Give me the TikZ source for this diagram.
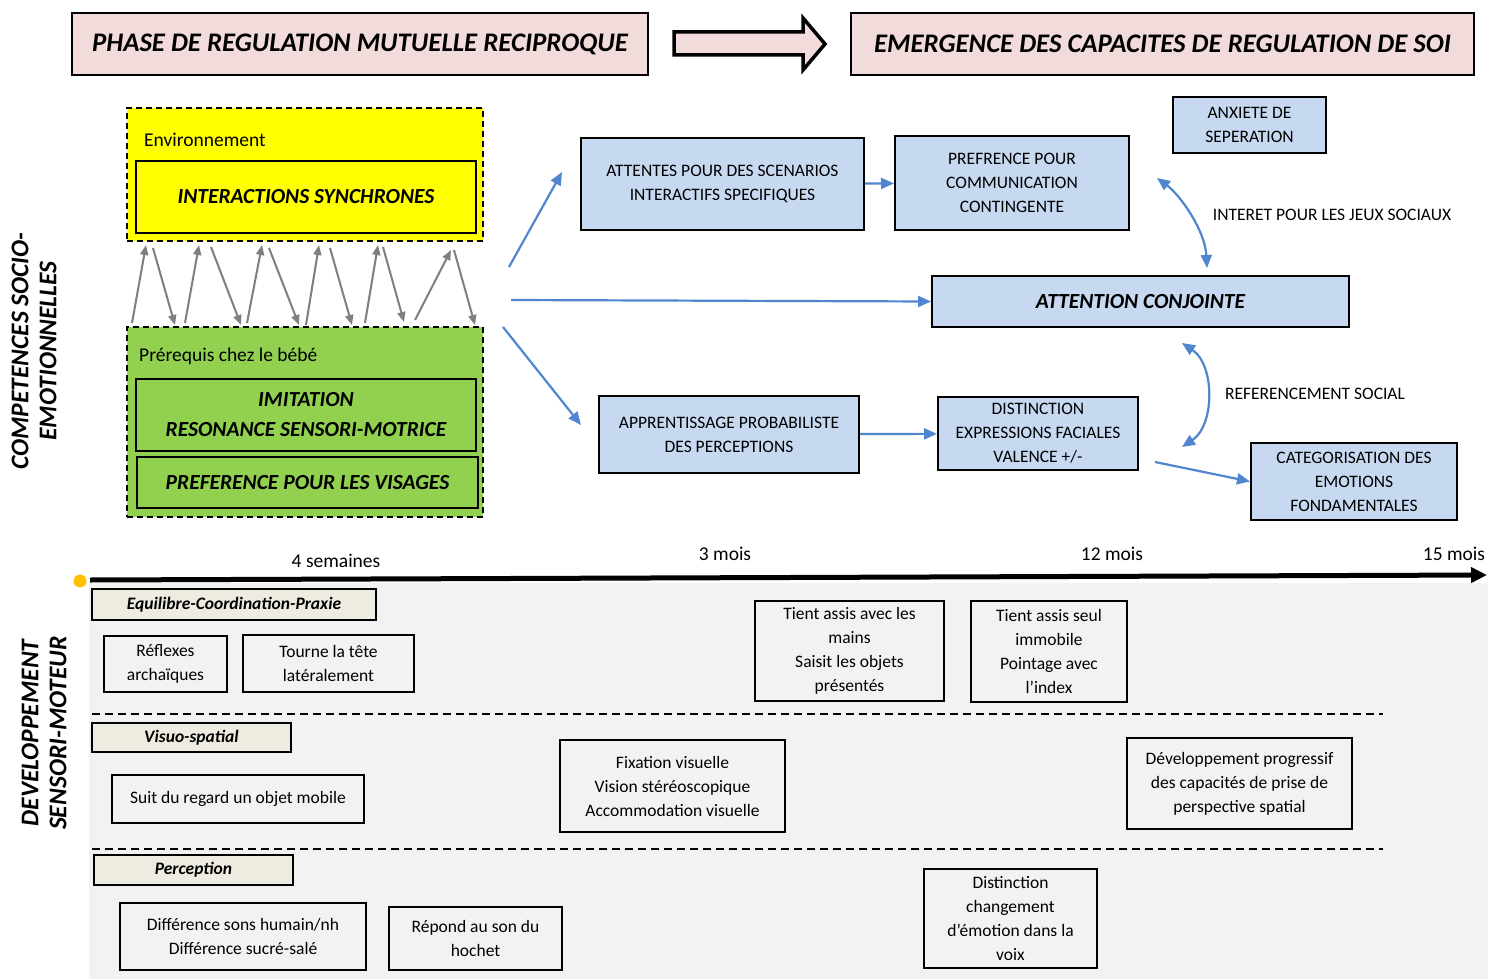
\documentclass[tikz,border=0pt]{standalone}
\usepackage{fontspec}
\setmainfont{Carlito}
\usetikzlibrary{arrows.meta}
\definecolor{hdrpink}{HTML}{F2DCDB}
\definecolor{boxblue}{HTML}{C6D9F1}
\definecolor{arrblue}{HTML}{4F86CF}
\definecolor{arrgrey}{HTML}{7F7F7F}
\definecolor{envyellow}{HTML}{FFFF00}
\definecolor{bbgreen}{HTML}{92D050}
\definecolor{catfill}{HTML}{EEECE1}
\definecolor{bggrey}{HTML}{F2F2F2}
\definecolor{dotorange}{HTML}{FFC000}
\tikzset{
  hdr/.style={draw, line width=1.5pt, fill=hdrpink, inner sep=0pt, font=\fontsize{26.8}{30}\selectfont\bfseries\itshape},
  zone/.style={draw, dashed, dash pattern=on 6pt off 4pt, line width=1.5pt, inner sep=0pt},
  inbox/.style={draw, line width=2pt, inner sep=0pt, align=center, font=\fontsize{21.5}{30}\selectfont\bfseries\itshape},
  bbox/.style={draw, line width=2pt, fill=boxblue, inner sep=0pt, align=center, font=\fontsize{17.5}{24}\selectfont},
  gbox/.style={draw, line width=1.8pt, inner sep=0pt, align=center, font=\fontsize{17.5}{24}\selectfont},
  catbox/.style={draw, line width=1.8pt, fill=catfill, inner sep=0pt, font=\fontsize{17.5}{20}\selectfont\bfseries\itshape},
  garr/.style={draw=arrgrey, line width=2pt, -{Triangle[length=10pt,width=8pt]}},
  barr/.style={draw=arrblue, line width=2.2pt, -{Triangle[length=13pt,width=11pt]}},
  bdarr/.style={draw=arrblue, line width=2.2pt, {Triangle[length=13pt,width=11pt]}-{Triangle[length=13pt,width=11pt]}},
  plain/.style={inner sep=0pt, font=\fontsize{17.5}{24}\selectfont},
  tlab/.style={inner sep=0pt, font=\fontsize{19.5}{24}\selectfont},
  sidelab/.style={inner sep=0pt, rotate=90, align=center, font=\fontsize{25.5}{28}\selectfont\bfseries\itshape}
}
\begin{document}
\begin{tikzpicture}[x=1pt,y=-1pt]
\useasboundingbox (0,0) rectangle (1488,979);
\fill[white] (0,0) rectangle (1488,979);
% grey background
\fill[bggrey] (89,583) rectangle (1488,979);

% headers
\node[hdr, minimum width=576pt, minimum height=62pt] (hl) at (360,44) {PHASE DE REGULATION MUTUELLE RECIPROQUE};
\node[hdr, minimum width=623pt, minimum height=62pt] (hr) at (1162.5,44) {EMERGENCE DES CAPACITES DE REGULATION DE SOI};
\draw[line width=3.5pt, fill=hdrpink, line join=miter] (674,32) -- (803,32) -- (803,18) -- (825,44) -- (803,70) -- (803,55) -- (674,55) -- cycle;

% side labels
\node[sidelab] (lsoc) at (34,351) {COMPETENCES SOCIO-\\EMOTIONNELLES};
\node[sidelab] (lsen) at (44,733) {DEVELOPPEMENT\\SENSORI-MOTEUR};

% environment zone
\node[zone, fill=envyellow, minimum width=356pt, minimum height=133pt] (env) at (305,174.5) {};
\node[plain, anchor=west, font=\fontsize{19.5}{24}\selectfont] (envt) at (144,140) {Environnement};
\node[inbox, minimum width=340pt, minimum height=72pt] (inter) at (306,197) {INTERACTIONS SYNCHRONES};

% baby zone
\node[zone, fill=bbgreen, minimum width=356pt, minimum height=190pt] (bebe) at (305,422) {};
\node[plain, anchor=west, font=\fontsize{19.5}{24}\selectfont] (bebet) at (139,356) {Prérequis chez le bébé};
\node[inbox, minimum width=340pt, minimum height=72pt] (imit) at (306,415) {IMITATION\\RESONANCE SENSORI-MOTRICE};
\node[inbox, minimum width=341pt, minimum height=51pt] (visa) at (307.5,482.5) {PREFERENCE POUR LES VISAGES};

% grey reciprocal arrows
\foreach \ax/\ay/\bx/\by in {132/323/146/245, 185/323/199/245, 247/323/262/245, 306/325/319/245, 365/323/378/245, 415/320/451/250,
  153/248/175/325, 211/247/241/325, 269/248/299/325, 330/248/352/325, 383/247/404/322, 454/250/475/325}
  {\draw[garr] (\ax,\ay) -- (\bx,\by);}

% blue boxes
\node[bbox, minimum width=283pt, minimum height=92pt] (att) at (722.5,184) {ATTENTES POUR DES SCENARIOS\\INTERACTIFS SPECIFIQUES};
\node[bbox, minimum width=234pt, minimum height=94pt] (comm) at (1012,183) {PREFRENCE POUR\\COMMUNICATION\\CONTINGENTE};
\node[bbox, minimum width=153pt, minimum height=56pt] (anx) at (1249.5,125) {ANXIETE DE\\SEPERATION};
\node[bbox, minimum width=417pt, minimum height=51pt, font=\fontsize{21.5}{24}\selectfont\bfseries\itshape] (conj) at (1140.5,301.5) {ATTENTION CONJOINTE};
\node[bbox, minimum width=260pt, minimum height=77pt] (appr) at (729,434.5) {APPRENTISSAGE PROBABILISTE\\DES PERCEPTIONS};
\node[bbox, minimum width=200pt, minimum height=73pt] (dist) at (1038,433.5) {DISTINCTION\\EXPRESSIONS FACIALES\\VALENCE +/-};
\node[bbox, minimum width=206pt, minimum height=77pt] (categ) at (1354,481.5) {CATEGORISATION DES\\EMOTIONS\\FONDAMENTALES};
\node[plain] (jeux) at (1332,215) {INTERET POUR LES JEUX SOCIAUX};
\node[plain] (refs) at (1315,394) {REFERENCEMENT SOCIAL};

% blue arrows
\coordinate (s1) at (509,267);
\coordinate (e1) at (562,172);
\coordinate (s2) at (511,300);
\coordinate (s3) at (503,327);
\coordinate (e3) at (581,425);
\coordinate (s4) at (1155,462);
\draw[barr] (s1) -- (e1);
\draw[barr] (s2) -- (conj.west);
\draw[barr] (s3) -- (e3);
\draw[barr] (att) -- (comm);
\draw[barr] (appr) -- (dist);
\draw[barr] (s4) -- (categ.west);
\coordinate (c1a) at (1157,178);
\coordinate (c1b) at (1207,268);
\coordinate (c2a) at (1182,343);
\coordinate (c2b) at (1182,447);
\draw[bdarr] (c1a) .. controls (1180,195) and (1205,230) .. (c1b);
\draw[bdarr] (c2a) .. controls (1215,365) and (1215,425) .. (c2b);

% timeline
\draw[line width=5pt, -{Triangle[length=16pt,width=15pt]}] (90,580) -- (1487,575);
\fill[dotorange] (80,581) circle (6.5);
\node[tlab] (t1) at (336,561) {4 semaines};
\node[tlab] (t2) at (725,554) {3 mois};
\node[tlab] (t3) at (1112,554) {12 mois};
\node[tlab] (t4) at (1454,554) {15 mois};

% dashed separators
\draw[line width=2pt, dash pattern=on 8pt off 5pt] (92,714) -- (1383,714);
\draw[line width=2pt, dash pattern=on 8pt off 5pt] (92,849) -- (1383,849);

% category labels
\node[catbox, minimum width=284pt, minimum height=31pt] (equi) at (234,604.5) {Equilibre-Coordination-Praxie};
\node[catbox, minimum width=199pt, minimum height=29pt] (visu) at (191.5,737.5) {Visuo-spatial};
\node[catbox, minimum width=199pt, minimum height=30pt] (perc) at (193.5,870) {Perception};

% item boxes
\node[gbox, minimum width=123pt, minimum height=56pt] (refl) at (165.5,664) {Réflexes\\archaïques};
\node[gbox, minimum width=171pt, minimum height=57pt] (tour) at (328.5,663.5) {Tourne la tête\\latéralement};
\node[gbox, minimum width=189pt, minimum height=100pt] (tien1) at (849.5,651) {Tient assis avec les\\mains\\Saisit les objets\\présentés};
\node[gbox, minimum width=156pt, minimum height=101pt] (tien2) at (1049,651.5) {Tient assis seul\\immobile\\Pointage avec\\l’index};
\node[gbox, minimum width=252pt, minimum height=48pt] (suit) at (238,799) {Suit du regard un objet mobile};
\node[gbox, minimum width=225pt, minimum height=92pt] (fix) at (672.5,786) {Fixation visuelle\\Vision stéréoscopique\\Accommodation visuelle};
\node[gbox, minimum width=225pt, minimum height=91pt] (dev) at (1239.5,783.5) {Développement progressif\\des capacités de prise de\\perspective spatial};
\node[gbox, minimum width=246pt, minimum height=67pt] (diff) at (243,936.5) {Différence sons humain/nh\\Différence sucré-salé};
\node[gbox, minimum width=173pt, minimum height=63pt] (rep) at (475.5,938.5) {Répond au son du\\hochet};
\node[gbox, minimum width=173pt, minimum height=99pt] (voix) at (1010.5,918.5) {Distinction\\changement\\d’émotion dans la\\voix};
\end{tikzpicture}
\end{document}
